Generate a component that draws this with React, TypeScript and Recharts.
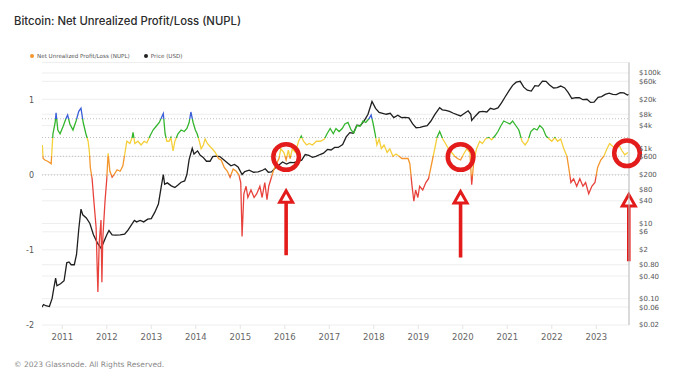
import React from 'react';
import {
  ComposedChart,
  Line,
  XAxis,
  YAxis,
  CartesianGrid,
  ReferenceLine,
  ReferenceDot,
  Legend,
} from 'recharts';

const YEARS = [2011, 2012, 2013, 2014, 2015, 2016, 2017, 2018, 2019, 2020, 2021, 2022, 2023];
const NUPL_TICKS = [1, 0, -1, -2];
const NUPL_ZONES = [0, 0.25, 0.5, 0.75];
const PRICE_TICKS = [0.02, 0.06, 0.1, 0.4, 0.8, 2, 6, 10, 40, 80, 200, 600, 1000, 4000, 8000, 20000, 60000, 100000];
const PRICE_LABELS = ['$0.02', '$0.06', '$0.10', '$0.40', '$0.80', '$2', '$6', '$10', '$40', '$80', '$200', '$600', '$1k', '$4k', '$8k', '$20k', '$60k', '$100k'];

// [year, NUPL]
const NUPL_SERIES: [number, number][] = [
  [2010.55, 0.4], [2010.57, 0.22], [2010.61, 0.2], [2010.68, 0.18], [2010.75, 0.15], [2010.79, 0.55],
  [2010.84, 0.7], [2010.86, 0.83], [2010.9, 0.6], [2010.95, 0.55],
  [2011.02, 0.65], [2011.08, 0.75], [2011.12, 0.8], [2011.17, 0.68], [2011.24, 0.6], [2011.31, 0.72],
  [2011.37, 0.85], [2011.42, 0.89], [2011.47, 0.7], [2011.53, 0.55], [2011.58, 0.45], [2011.61, 0.3],
  [2011.63, 0.1], [2011.67, -0.05], [2011.71, -0.35], [2011.76, -0.7], [2011.78, -1.15], [2011.8, -1.56],
  [2011.83, -0.9], [2011.87, -0.6], [2011.89, -1.43], [2011.91, -0.85], [2011.96, -0.35],
  [2012.0, -0.05], [2012.03, 0.29], [2012.07, 0.05], [2012.12, -0.03], [2012.16, 0.0], [2012.23, 0.07],
  [2012.3, 0.05], [2012.36, 0.12], [2012.41, 0.3], [2012.45, 0.45], [2012.52, 0.42], [2012.57, 0.5],
  [2012.59, 0.57], [2012.63, 0.42], [2012.7, 0.45], [2012.77, 0.4], [2012.84, 0.45], [2012.9, 0.43], [2012.97, 0.52],
  [2013.04, 0.6], [2013.11, 0.65], [2013.18, 0.7], [2013.24, 0.78], [2013.27, 0.82], [2013.31, 0.55],
  [2013.35, 0.45], [2013.4, 0.45], [2013.44, 0.5], [2013.49, 0.32], [2013.53, 0.45], [2013.6, 0.55],
  [2013.67, 0.6], [2013.74, 0.58], [2013.8, 0.62], [2013.85, 0.7], [2013.89, 0.84], [2013.94, 0.7], [2013.99, 0.6],
  [2014.03, 0.55], [2014.08, 0.45], [2014.12, 0.35], [2014.17, 0.4], [2014.21, 0.48], [2014.26, 0.42],
  [2014.32, 0.38], [2014.37, 0.35], [2014.44, 0.3], [2014.51, 0.22], [2014.57, 0.2], [2014.64, 0.1],
  [2014.71, 0.05], [2014.77, -0.03], [2014.84, 0.08], [2014.91, 0.05], [2014.97, 0.0],
  [2015.01, -0.1], [2015.04, -0.82], [2015.08, -0.25], [2015.13, -0.15], [2015.17, -0.3], [2015.24, -0.2],
  [2015.31, -0.3], [2015.37, -0.25], [2015.44, -0.15], [2015.49, -0.3], [2015.55, -0.1], [2015.6, -0.33],
  [2015.64, -0.15], [2015.69, -0.05], [2015.74, 0.05], [2015.81, 0.15], [2015.87, 0.22], [2015.91, 0.35], [2015.98, 0.3],
  [2016.03, 0.2], [2016.08, 0.33], [2016.12, 0.22], [2016.17, 0.35], [2016.24, 0.3], [2016.31, 0.45],
  [2016.37, 0.52], [2016.42, 0.45], [2016.49, 0.4], [2016.55, 0.42], [2016.62, 0.4], [2016.71, 0.45],
  [2016.8, 0.45], [2016.89, 0.48], [2016.95, 0.55],
  [2017.02, 0.62], [2017.09, 0.55], [2017.15, 0.62], [2017.22, 0.58], [2017.29, 0.62], [2017.35, 0.68],
  [2017.42, 0.7], [2017.49, 0.6], [2017.55, 0.56], [2017.62, 0.66], [2017.69, 0.65], [2017.76, 0.72],
  [2017.82, 0.7], [2017.89, 0.75], [2017.94, 0.8], [2017.98, 0.7],
  [2018.03, 0.55], [2018.07, 0.4], [2018.12, 0.48], [2018.17, 0.35], [2018.23, 0.4], [2018.3, 0.3],
  [2018.36, 0.35], [2018.43, 0.25], [2018.5, 0.28], [2018.57, 0.25], [2018.63, 0.22], [2018.7, 0.22],
  [2018.77, 0.22], [2018.81, 0.15], [2018.86, -0.15], [2018.9, -0.35], [2018.94, -0.2], [2018.99, -0.3],
  [2019.03, -0.15], [2019.1, -0.2], [2019.17, -0.1], [2019.23, -0.05], [2019.3, 0.15], [2019.37, 0.35],
  [2019.42, 0.5], [2019.48, 0.58], [2019.55, 0.48], [2019.61, 0.42], [2019.68, 0.35], [2019.75, 0.3],
  [2019.82, 0.25], [2019.88, 0.22], [2019.95, 0.2],
  [2020.02, 0.28], [2020.09, 0.35], [2020.16, 0.3], [2020.2, -0.13], [2020.25, 0.2], [2020.31, 0.35],
  [2020.38, 0.45], [2020.44, 0.42], [2020.51, 0.48], [2020.58, 0.5], [2020.65, 0.47], [2020.72, 0.52],
  [2020.79, 0.58], [2020.85, 0.65], [2020.92, 0.72], [2020.99, 0.7],
  [2021.06, 0.68], [2021.12, 0.72], [2021.19, 0.66], [2021.26, 0.6], [2021.33, 0.45], [2021.4, 0.4],
  [2021.46, 0.45], [2021.53, 0.58], [2021.6, 0.62], [2021.67, 0.6], [2021.73, 0.66], [2021.8, 0.62],
  [2021.87, 0.52], [2021.94, 0.48],
  [2022.0, 0.45], [2022.07, 0.5], [2022.13, 0.45], [2022.2, 0.48], [2022.27, 0.35], [2022.34, 0.25],
  [2022.38, 0.1], [2022.43, -0.1], [2022.49, -0.05], [2022.56, -0.15], [2022.63, -0.05], [2022.7, -0.15],
  [2022.76, -0.1], [2022.83, -0.25], [2022.9, -0.15], [2022.97, -0.1],
  [2023.03, 0.1], [2023.1, 0.2], [2023.17, 0.25], [2023.24, 0.35], [2023.3, 0.42], [2023.37, 0.38],
  [2023.44, 0.35], [2023.51, 0.4], [2023.57, 0.33], [2023.64, 0.27], [2023.71, 0.3],
];

// [year, USD]
const PRICE_SERIES: [number, number][] = [
  [2010.54, 0.06], [2010.58, 0.07], [2010.63, 0.065], [2010.71, 0.062], [2010.77, 0.1], [2010.81, 0.19],
  [2010.85, 0.35], [2010.88, 0.22], [2010.96, 0.25],
  [2011.04, 0.3], [2011.1, 0.9], [2011.15, 0.95], [2011.2, 0.8], [2011.27, 0.8], [2011.32, 1.5],
  [2011.37, 7], [2011.42, 24], [2011.46, 17], [2011.54, 14], [2011.62, 10], [2011.7, 5], [2011.79, 3],
  [2011.87, 2.2], [2011.92, 3],
  [2012.0, 5], [2012.05, 6.5], [2012.12, 5], [2012.2, 4.9], [2012.3, 5], [2012.4, 5.2], [2012.47, 6.5],
  [2012.55, 9], [2012.62, 12], [2012.67, 11], [2012.75, 12], [2012.83, 11], [2012.92, 13],
  [2013.0, 13.5], [2013.08, 20], [2013.16, 33], [2013.22, 90], [2013.27, 200], [2013.3, 110],
  [2013.36, 120], [2013.45, 100], [2013.53, 90], [2013.6, 105], [2013.67, 125], [2013.75, 135],
  [2013.8, 200], [2013.85, 500], [2013.92, 1000], [2013.96, 700],
  [2014.04, 850], [2014.1, 650], [2014.16, 580], [2014.24, 450], [2014.32, 450], [2014.38, 600],
  [2014.45, 620], [2014.54, 600], [2014.62, 500], [2014.7, 420], [2014.79, 340], [2014.87, 370], [2014.95, 320],
  [2015.04, 200], [2015.1, 240], [2015.2, 260], [2015.3, 230], [2015.4, 235], [2015.5, 260],
  [2015.56, 285], [2015.63, 230], [2015.7, 235], [2015.8, 310], [2015.87, 360], [2015.95, 430],
  [2016.04, 380], [2016.12, 420], [2016.2, 415], [2016.3, 450], [2016.38, 480], [2016.46, 680],
  [2016.54, 650], [2016.62, 575], [2016.7, 610], [2016.79, 680], [2016.87, 740], [2016.96, 930],
  [2017.04, 900], [2017.12, 1050], [2017.2, 1050], [2017.3, 1250], [2017.38, 2000], [2017.46, 2600],
  [2017.54, 2500], [2017.62, 4100], [2017.7, 4000], [2017.79, 5500], [2017.87, 8000], [2017.96, 17500],
  [2018.04, 11500], [2018.12, 9000], [2018.2, 8500], [2018.28, 8000], [2018.37, 8500], [2018.45, 6500],
  [2018.54, 7500], [2018.62, 6500], [2018.7, 6600], [2018.79, 6400], [2018.87, 4500], [2018.95, 3500],
  [2019.04, 3600], [2019.12, 3800], [2019.2, 4000], [2019.28, 5200], [2019.37, 7800], [2019.48, 12000],
  [2019.54, 10500], [2019.62, 10200], [2019.7, 9500], [2019.79, 8500], [2019.87, 7800], [2019.95, 7200],
  [2020.04, 8500], [2020.12, 9900], [2020.18, 8000], [2020.2, 5500], [2020.25, 6500], [2020.3, 7500],
  [2020.37, 9200], [2020.45, 9500], [2020.54, 9200], [2020.62, 11500], [2020.7, 10800], [2020.79, 11800],
  [2020.87, 16000], [2020.95, 23000],
  [2021.04, 34000], [2021.12, 47000], [2021.2, 57000], [2021.29, 60000], [2021.37, 42000], [2021.45, 35000],
  [2021.54, 33000], [2021.62, 46000], [2021.7, 45000], [2021.79, 61000], [2021.87, 60000], [2021.95, 48000],
  [2022.04, 40000], [2022.12, 41000], [2022.2, 45000], [2022.29, 40000], [2022.37, 30000], [2022.45, 21000],
  [2022.54, 22000], [2022.62, 22000], [2022.7, 19500], [2022.79, 20000], [2022.87, 16500], [2022.95, 16800],
  [2023.04, 22500], [2023.12, 23500], [2023.2, 27000], [2023.29, 29000], [2023.37, 27000], [2023.45, 26500],
  [2023.54, 30000], [2023.62, 29500], [2023.7, 26000], [2023.73, 27000],
];

// circled periods and the arrows under them
const HIGHLIGHT_DATES = [2016.03, 2019.95, 2023.69];
const HIGHLIGHT_NUPL = [0.24, 0.24, 0.29];
const ARROW_DATES = [2016.03, 2019.95, 2023.73];
const ARROW_TAIL = [-1.07, -1.1, -1.15];
const ARROW_TIP = [-0.19, -0.2, -0.24];

const ZONE_COLORS = ['#e8423c', '#f3952a', '#f4cf3a', '#33b52d', '#3a5fd8'];
const ANNOTATION_RED = '#e31b1b';

const WIDTH = 680;
const HEIGHT = 383;
const PLOT_TOP = 62.5;
const PLOT_BOTTOM = 325;
const NUPL_DOMAIN: [number, number] = [-2, 1.5];
const PRICE_DOMAIN: [number, number] = [0.02, 190000];
const X_DOMAIN: [number, number] = [2010.544, 2023.735];

const nuplData = NUPL_SERIES.map(([t, v]) => ({ t, v }));
const priceData = PRICE_SERIES.map(([t, v]) => ({ t, v }));

const zoneOffset = (v: number) => (NUPL_DOMAIN[1] - v) / (NUPL_DOMAIN[1] - NUPL_DOMAIN[0]);

const priceLabel = (v: number) => {
  const i = PRICE_TICKS.indexOf(v);
  return i >= 0 ? PRICE_LABELS[i] : '';
};

const Arrow = (props: any) => {
  const { x1, y1, x2, y2 } = props;
  const x = (x1 + x2) / 2;
  const tip = Math.min(y1, y2);
  const tail = Math.max(y1, y2);
  const headH = 13;
  const half = 6.5;
  return (
    <g>
      <line x1={x} y1={tail} x2={x} y2={tip + headH} stroke={ANNOTATION_RED} strokeWidth={3.6} />
      <polygon
        points={`${x},${tip + 1.5} ${x - half},${tip + headH} ${x + half},${tip + headH}`}
        fill="#fff"
        stroke={ANNOTATION_RED}
        strokeWidth={3}
        strokeLinejoin="miter"
      />
    </g>
  );
};

const LegendContent = () => (
  <div style={{ display: 'flex', gap: 14, fontFamily: 'DejaVu Sans, sans-serif', fontSize: 5.6, color: '#555' }}>
    <span style={{ display: 'flex', alignItems: 'center', gap: 3 }}>
      <span style={{ width: 4, height: 4, borderRadius: 2, background: ZONE_COLORS[1] }} />
      Net Unrealized Profit/Loss (NUPL)
    </span>
    <span style={{ display: 'flex', alignItems: 'center', gap: 3 }}>
      <span style={{ width: 4, height: 4, borderRadius: 2, background: '#222' }} />
      Price (USD)
    </span>
  </div>
);

export default function App() {
  return (
    <div style={{ position: 'absolute', left: 0, top: 0, width: WIDTH, height: HEIGHT, background: '#fff' }}>
      <div
        style={{
          position: 'absolute',
          left: 14,
          top: 14,
          fontFamily: 'Inter, sans-serif',
          fontSize: 11.3,
          fontWeight: 500,
          color: '#2b2b2b',
        }}
      >
        Bitcoin: Net Unrealized Profit/Loss (NUPL)
      </div>
      <ComposedChart
        width={WIDTH}
        height={HEIGHT}
        margin={{ top: PLOT_TOP, right: 0, bottom: 33, left: 0 }}
      >
        <defs>
          <linearGradient id="nuplZones" gradientUnits="userSpaceOnUse" x1="0" y1={PLOT_TOP} x2="0" y2={PLOT_BOTTOM}>
            <stop offset={0} stopColor={ZONE_COLORS[4]} />
            <stop offset={zoneOffset(0.75)} stopColor={ZONE_COLORS[4]} />
            <stop offset={zoneOffset(0.75)} stopColor={ZONE_COLORS[3]} />
            <stop offset={zoneOffset(0.5)} stopColor={ZONE_COLORS[3]} />
            <stop offset={zoneOffset(0.5)} stopColor={ZONE_COLORS[2]} />
            <stop offset={zoneOffset(0.25)} stopColor={ZONE_COLORS[2]} />
            <stop offset={zoneOffset(0.25)} stopColor={ZONE_COLORS[1]} />
            <stop offset={zoneOffset(0.02)} stopColor={ZONE_COLORS[1]} />
            <stop offset={zoneOffset(-0.05)} stopColor={ZONE_COLORS[0]} />
            <stop offset={1} stopColor={ZONE_COLORS[0]} />
          </linearGradient>
        </defs>
        <CartesianGrid vertical={false} yAxisId="price" stroke="#eeeeee" />
        <XAxis
          type="number"
          dataKey="t"
          domain={X_DOMAIN}
          ticks={YEARS}
          interval={0}
          allowDataOverflow
          height={25}
          axisLine={false}
          tickLine={{ stroke: '#e4e4e4' }}
          tickSize={4}
          tickMargin={5}
          tick={{ fontSize: 8.5, fill: '#666', fontFamily: 'DejaVu Sans' }}
        />
        <YAxis
          yAxisId="nupl"
          type="number"
          domain={NUPL_DOMAIN}
          ticks={NUPL_TICKS}
          interval={0}
          allowDataOverflow
          width={42}
          axisLine={false}
          tickLine={false}
          tickSize={0}
          tickMargin={8}
          tick={{ fontSize: 8, fill: '#555', fontFamily: 'DejaVu Sans', dy: 0 }}
        />
        <YAxis
          yAxisId="price"
          orientation="right"
          scale="log"
          domain={PRICE_DOMAIN}
          ticks={PRICE_TICKS}
          interval={0}
          allowDataOverflow
          width={51}
          axisLine={{ stroke: '#b5b5b5' }}
          tickLine={false}
          tickSize={0}
          tickMargin={10}
          tickFormatter={priceLabel}
          tick={{ fontSize: 7, fill: '#555', fontFamily: 'DejaVu Sans', dy: 0 }}
        />
        <Legend
          align="center"
          verticalAlign="middle"
          wrapperStyle={{ top: 53, left: 30, width: 'auto' }}
          content={<LegendContent />}
        />
        {NUPL_ZONES.map((z) => (
          <ReferenceLine key={z} yAxisId="nupl" y={z} stroke="#b0b0b0" strokeDasharray="1 2" strokeWidth={0.8} />
        ))}
        <Line
          data={priceData}
          yAxisId="price"
          dataKey="v"
          type="linear"
          stroke="#1f1f1f"
          strokeWidth={1.3}
          dot={false}
          isAnimationActive={false}
        />
        <Line
          data={nuplData}
          yAxisId="nupl"
          dataKey="v"
          type="linear"
          stroke="url(#nuplZones)"
          strokeWidth={1.3}
          dot={false}
          isAnimationActive={false}
        />
        {HIGHLIGHT_DATES.map((d, i) => (
          <ReferenceDot
            key={`c${i}`}
            yAxisId="nupl"
            x={d}
            y={HIGHLIGHT_NUPL[i]}
            r={12.8}
            fill="none"
            stroke={ANNOTATION_RED}
            strokeWidth={4.5}
          />
        ))}
        {ARROW_DATES.map((d, i) => (
          <ReferenceLine
            key={`a${i}`}
            yAxisId="nupl"
            segment={[{ x: d, y: ARROW_TAIL[i] }, { x: d, y: ARROW_TIP[i] }]}
            shape={<Arrow />}
          />
        ))}
      </ComposedChart>
      <div
        style={{
          position: 'absolute',
          left: 14,
          top: 360,
          fontFamily: 'DejaVu Sans, sans-serif',
          fontSize: 7.5,
          color: '#888',
        }}
      >
        © 2023 Glassnode. All Rights Reserved.
      </div>
    </div>
  );
}
